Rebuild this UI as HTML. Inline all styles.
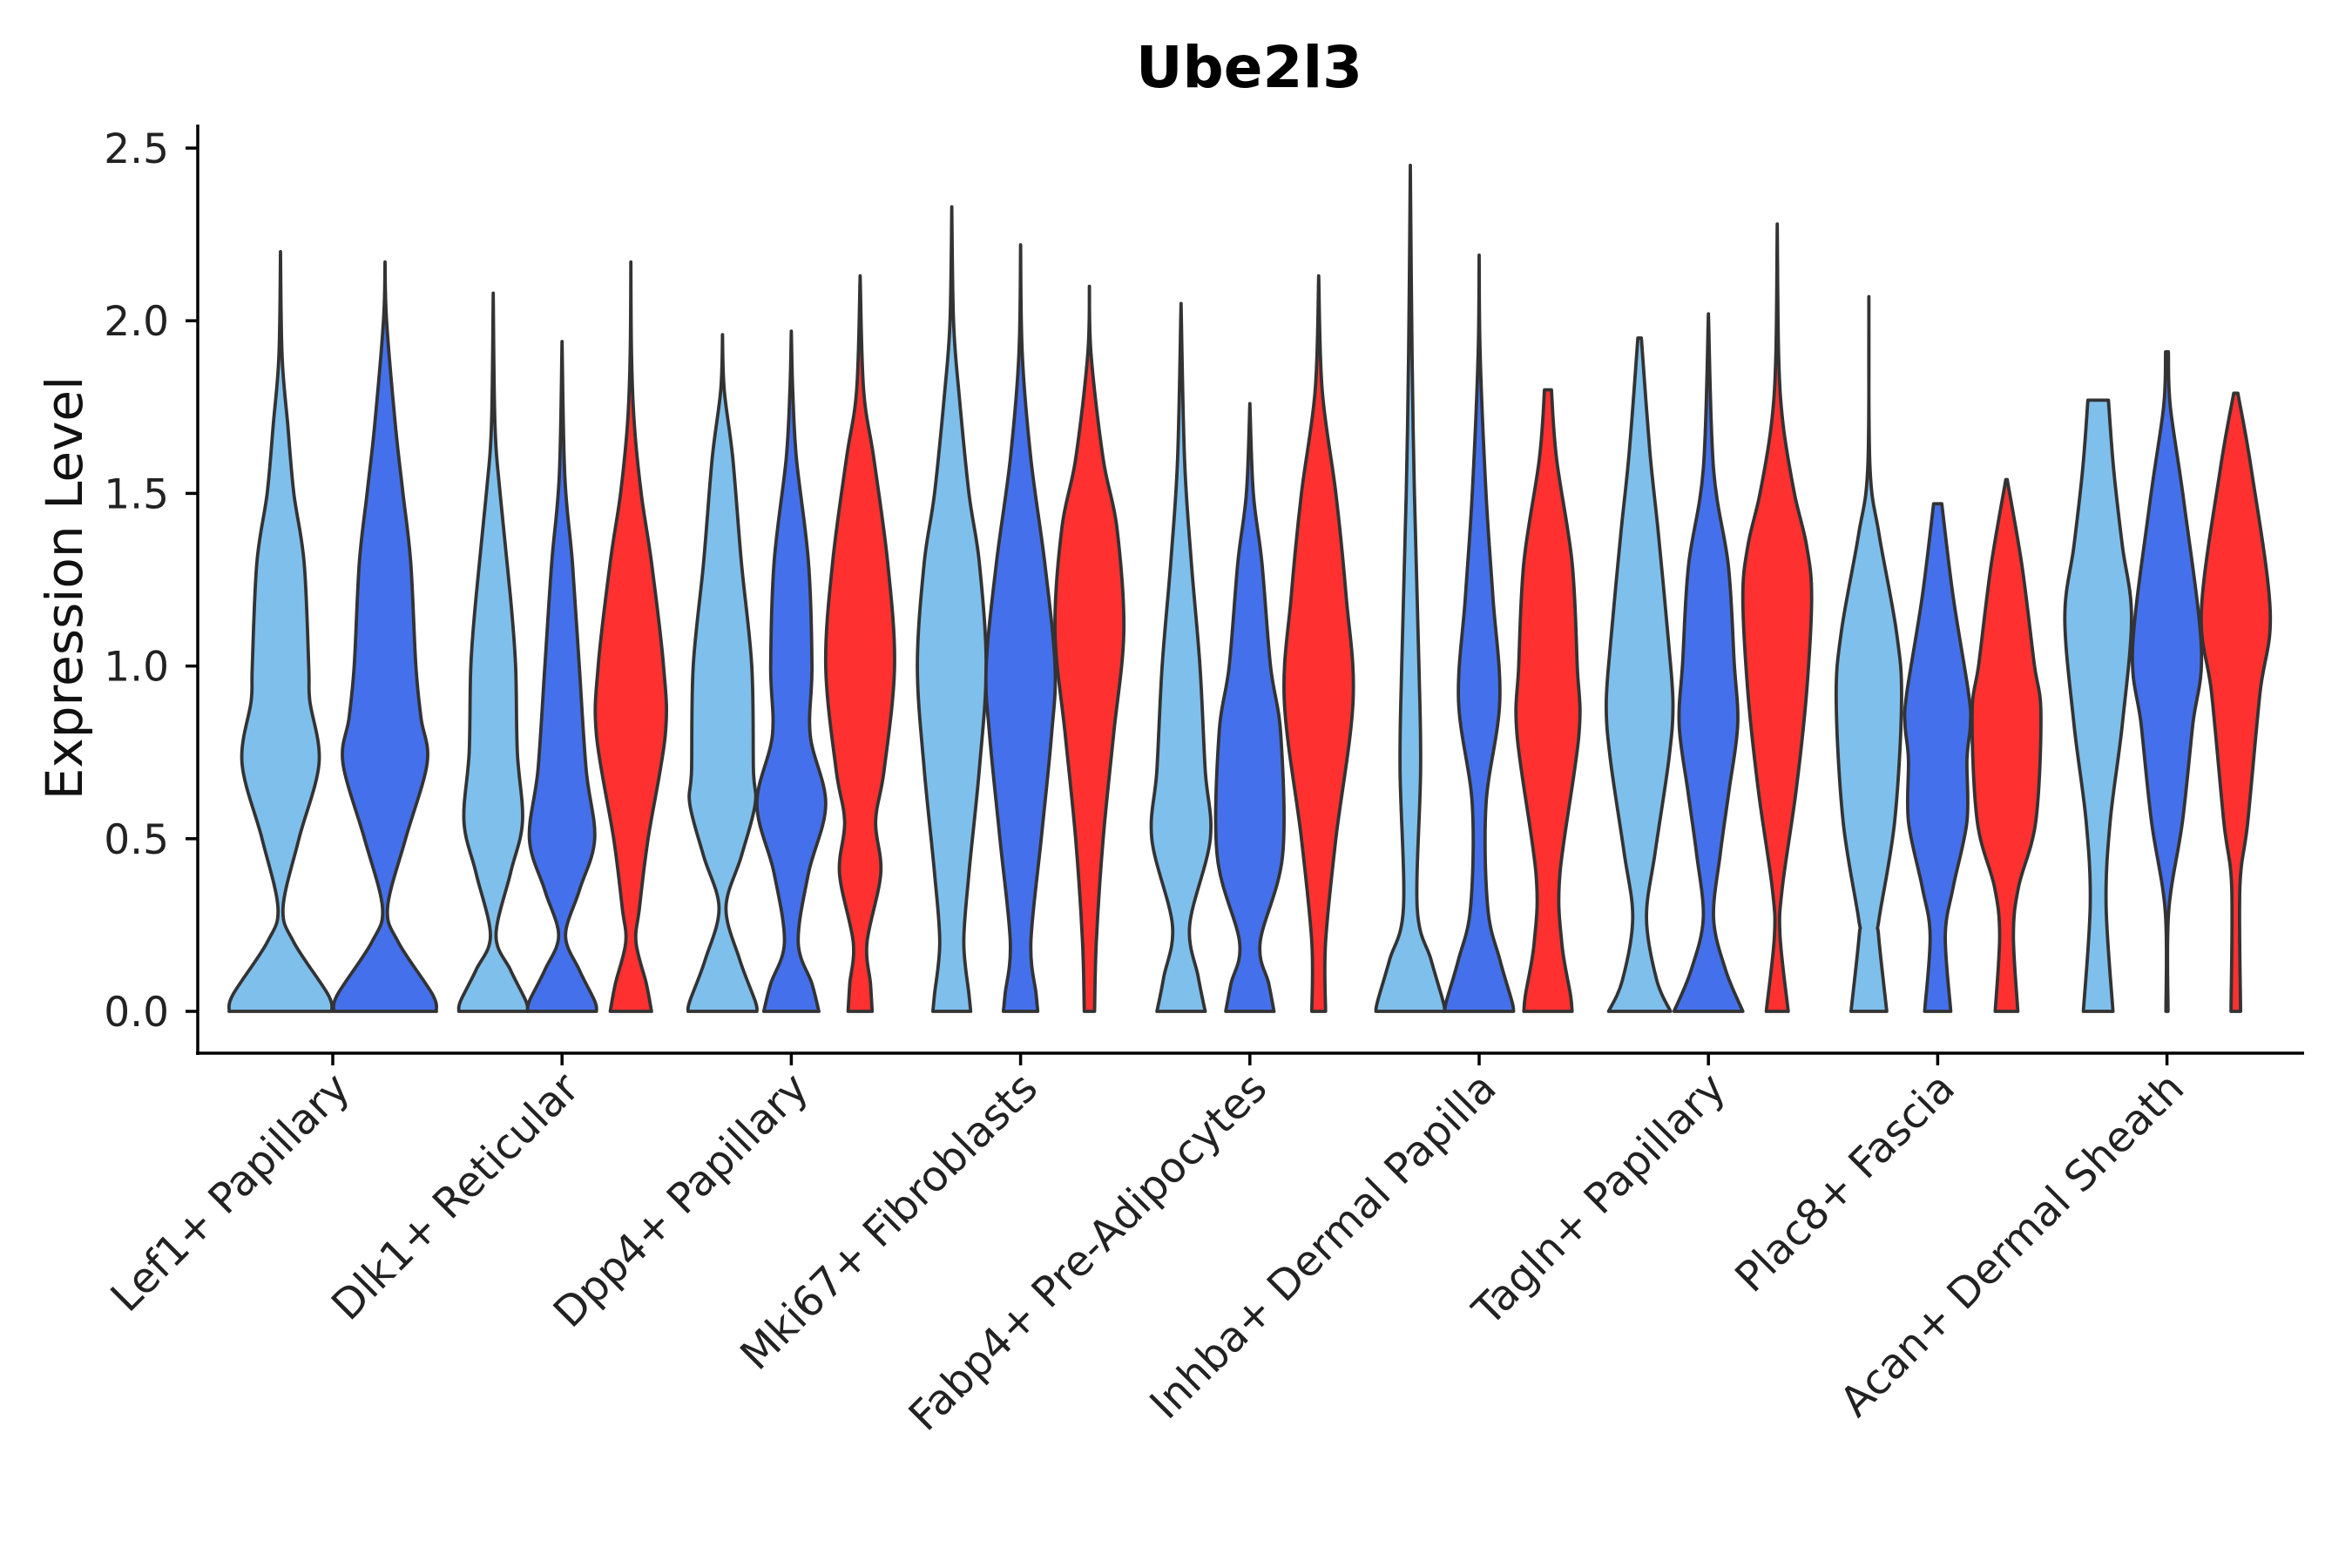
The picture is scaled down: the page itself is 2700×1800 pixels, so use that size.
<!DOCTYPE html>
<html><head><meta charset="utf-8"><style>
html,body{margin:0;padding:0;background:#fff;}
svg{display:block;font-family:"DejaVu Sans","Liberation Sans",sans-serif;}
</style></head><body>
<svg id="s" width="2700" height="1800" viewBox="0 0 2700 1800" xmlns="http://www.w3.org/2000/svg">
<rect width="2700" height="1800" fill="#fff"/>
<text x="1434" y="100" font-size="66" font-weight="bold" text-anchor="middle">Ube2l3</text>
<g id="v"></g>
<line x1="227" y1="143" x2="227" y2="1211" stroke="#000" stroke-width="3.5"/>
<line x1="225" y1="1209" x2="2645" y2="1209" stroke="#000" stroke-width="3.5"/>
<g id="t" font-size="47" fill="#222"></g>
<text transform="translate(94,675) rotate(-90)" font-size="58" text-anchor="middle" fill="#111">Expression Level</text>
</svg>
<script>
const Y0=1161, PU=396.4;
const yv=v=>Y0-v*PU;
const C={l:"#7FBFEC",b:"#4470EC",r:"#FF3030"};
const tick=i=>382+i*263.2;
const V=[
["l",tick(0)-60,59,[[2.2,0],[1.9,.03],[1.7,.14],[1.5,.26],[1.3,.46],[1.0,.55],[0.9,.57],[0.72,.75],[0.5,.36],[0.3,.05],[0.2,.26],[0.05,.92],[0,1]]],
["b",tick(0)+60,59,[[2.17,0],[2.0,.03],[1.7,.2],[1.5,.35],[1.3,.5],[1.0,.6],[0.85,.7],[0.72,.82],[0.5,.4],[0.3,.05],[0.2,.26],[0.05,.92],[0,1]]],
["l",tick(1)-79,39.5,[[2.08,0],[1.7,.05],[1.5,.2],[1.2,.5],[1.0,.65],[0.75,.7],[0.55,.85],[0.4,.5],[0.22,.08],[0.12,.5],[0.03,.95],[0,1]]],
["b",tick(1),39.5,[[1.94,0],[1.55,.08],[1.3,.3],[1.0,.5],[0.7,.7],[0.5,.95],[0.35,.5],[0.22,.1],[0.12,.5],[0.03,.95],[0,1]]],
["r",tick(1)+79,39.5,[[2.17,0],[1.9,.02],[1.7,.1],[1.5,.3],[1.3,.6],[1.0,.95],[0.8,1],[0.5,.5],[0.3,.25],[0.2,.15],[0.08,.45],[0,.6]]],
["l",tick(2)-79,39.5,[[1.96,0],[1.8,.05],[1.6,.3],[1.3,.55],[1.0,.85],[0.7,.9],[0.6,.95],[0.45,.55],[0.3,.1],[0.15,.5],[0.03,.95],[0,1]]],
["b",tick(2),39.5,[[1.97,0],[1.8,.04],[1.6,.15],[1.3,.5],[1.0,.6],[0.8,.55],[0.6,1],[0.4,.5],[0.2,.2],[0.08,.6],[0,.8]]],
["r",tick(2)+79,39.5,[[2.13,0],[1.8,.1],[1.6,.4],[1.3,.8],[1.0,1],[0.7,.7],[0.55,.45],[0.4,.6],[0.2,.2],[0.08,.3],[0,.35]]],
["l",tick(3)-79,39.5,[[2.33,0],[2.0,.05],[1.8,.2],[1.5,.5],[1.3,.8],[1.0,1],[0.7,.8],[0.4,.5],[0.2,.35],[0.05,.5],[0,.55]]],
["b",tick(3),39.5,[[2.22,0],[1.9,.05],[1.6,.3],[1.3,.7],[1.0,1],[0.8,.9],[0.5,.6],[0.2,.3],[0.05,.45],[0,.5]]],
["r",tick(3)+79,39.5,[[2.1,0],[1.9,.05],[1.6,.4],[1.4,.8],[1.1,1],[0.8,.7],[0.5,.4],[0.2,.2],[0,.15]]],
["l",tick(4)-79,39.5,[[2.05,0],[1.6,.1],[1.3,.3],[1.0,.55],[0.7,.7],[0.5,.85],[0.25,.25],[0.1,.5],[0,.7]]],
["b",tick(4),39.5,[[1.76,0],[1.5,.1],[1.3,.35],[1.0,.6],[0.8,.9],[0.45,.95],[0.2,.3],[0.08,.55],[0,.7]]],
["r",tick(4)+79,39.5,[[2.13,0],[1.8,.1],[1.5,.5],[1.2,.8],[0.9,1],[0.5,.5],[0.2,.2],[0,.2]]],
["l",tick(5)-79,39.5,[[2.45,0],[1.9,.05],[1.5,.12],[1.0,.25],[0.7,.3],[0.3,.2],[0.15,.6],[0.03,.95],[0,1]]],
["b",tick(5),39.5,[[2.19,0],[1.9,.03],[1.5,.2],[1.2,.4],[0.9,.6],[0.6,.2],[0.3,.25],[0.15,.6],[0.03,.95],[0,1]]],
["r",tick(5)+79,39.5,[[1.8,.1],[1.6,.25],[1.3,.7],[1.0,.85],[0.8,.9],[0.4,.35],[0.2,.4],[0.05,.65],[0,.7]]],
["l",tick(6)-79,39.5,[[1.95,.05],[1.62,.3],[1.38,.55],[1.07,.84],[0.89,.97],[0.73,.85],[0.46,.45],[0.27,.2],[0.09,.5],[0,.9]]],
["b",tick(6),39.5,[[2.02,0],[1.57,.15],[1.29,.58],[1.01,.75],[0.83,.85],[0.64,.6],[0.46,.35],[0.27,.15],[0.12,.5],[0,1]]],
["r",tick(6)+79,39.5,[[2.28,0],[1.9,.04],[1.7,.17],[1.5,.5],[1.35,.85],[1.2,1],[0.92,.85],[0.64,.55],[0.36,.15],[0.22,.08],[0,.32]]],
["l",tick(7)-79,39.5,[[2.07,0],[1.58,.03],[1.38,.3],[1.1,.8],[0.9,.95],[0.55,.75],[0.27,.3],[0.22,.28],[0,.52]]],
["b",tick(7),39.5,[[1.47,.12],[1.2,.45],[0.92,.9],[0.83,.95],[0.73,.85],[0.55,.85],[0.36,.45],[0.22,.22],[0,.38]]],
["r",tick(7)+79,39.5,[[1.54,.02],[1.29,.45],[1.01,.8],[0.86,1],[0.55,.85],[0.36,.35],[0.22,.2],[0,.33]]],
["l",tick(8)-79,39.5,[[1.77,.3],[1.57,.45],[1.35,.7],[1.14,.97],[0.83,.7],[0.55,.35],[0.31,.23],[0,.43]]],
["b",tick(8),39.5,[[1.91,.04],[1.75,.1],[1.47,.5],[1.05,1],[0.83,.75],[0.55,.45],[0.29,.05],[0,.03]]],
["r",tick(8)+79,39.5,[[1.79,.06],[1.57,.45],[1.16,1],[0.92,.7],[0.55,.35],[0.36,.12],[0,.14]]]
];
function cr(pts){
  let d="";
  for(let i=0;i<pts.length-1;i++){
    const p0=pts[Math.max(i-1,0)],p1=pts[i],p2=pts[i+1],p3=pts[Math.min(i+2,pts.length-1)];
    const c1=[p1[0]+(p2[0]-p0[0])/6,p1[1]+(p2[1]-p0[1])/6];
    const c2=[p2[0]-(p3[0]-p1[0])/6,p2[1]-(p3[1]-p1[1])/6];
    d+=` C${c1[0].toFixed(1)},${c1[1].toFixed(1)} ${c2[0].toFixed(1)},${c2[1].toFixed(1)} ${p2[0].toFixed(1)},${p2[1].toFixed(1)}`;
  }
  return d;
}
let h="";
for(const [c,cx,w,p] of V){
  const R=p.map(([v,f])=>[cx+f*w,yv(v)]);
  const L=p.slice().reverse().map(([v,f])=>[cx-f*w,yv(v)]);
  let d=`M${R[0][0].toFixed(1)},${R[0][1].toFixed(1)}`+cr(R)+` L${L[0][0].toFixed(1)},${L[0][1].toFixed(1)}`+cr(L)+" Z";
  h+=`<path d="${d}" fill="${C[c]}" stroke="#333" stroke-width="3.8" stroke-linejoin="round"/>`;
}
document.getElementById("v").innerHTML=h;
let t="";
[0,0.5,1,1.5,2,2.5].forEach(v=>{const y=yv(v);
 t+=`<line x1="213" y1="${y}" x2="227" y2="${y}" stroke="#000" stroke-width="3.5"/><text x="194" y="${y+17}" text-anchor="end">${v.toFixed(1)}</text>`;});
const labs=["Lef1+ Papillary","Dlk1+ Reticular","Dpp4+ Papillary","Mki67+ Fibroblasts","Fabp4+ Pre-Adipocytes","Inhba+ Dermal Papilla","Tagln+ Papillary","Plac8+ Fascia","Acan+ Dermal Sheath"];
labs.forEach((s,i)=>{const x=tick(i);
 t+=`<line x1="${x}" y1="1209" x2="${x}" y2="1223" stroke="#000" stroke-width="3.5"/><text transform="translate(${x+22},${1252}) rotate(-45)" text-anchor="end" font-size="48">${s}</text>`;});
document.getElementById("t").innerHTML=t;
</script>
</body></html>
